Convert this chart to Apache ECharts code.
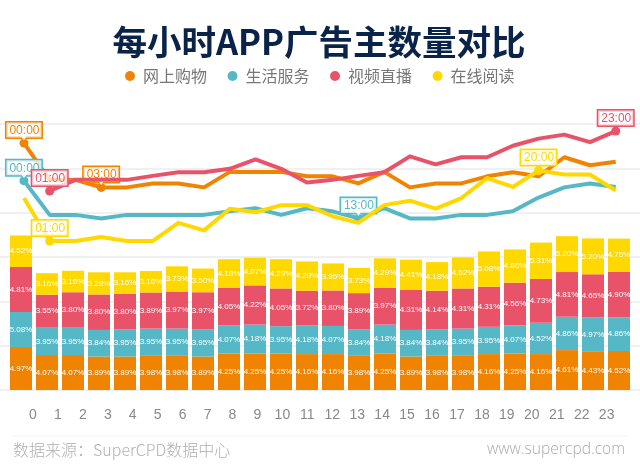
<!DOCTYPE html>
<html>
<head>
<meta charset="utf-8">
<style>html,body{margin:0;padding:0;background:#fff}#chart{width:640px;height:470px}</style>
<script src="https://cdn.jsdelivr.net/npm/echarts@6/dist/echarts.min.js"></script>
</head>
<body>
<div id="chart"></div>
<script>
var hours = ['0','1','2','3','4','5','6','7','8','9','10','11','12','13','14','15','16','17','18','19','20','21','22','23'];
var seriesNames = ['网上购物','生活服务','视频直播','在线阅读'];
var colors = ['#f08300','#56b8c7','#e8536a','#ffd800'];

// percentages printed on the bars
var shopPct = ['4.97%','4.07%','4.07%','3.89%','3.89%','3.98%','3.98%','3.89%','4.25%','4.25%','4.25%','4.16%','4.16%','3.98%','4.25%','3.89%','3.98%','3.98%','4.16%','4.25%','4.16%','4.61%','4.43%','4.52%'];
var lifePct = ['5.08%','3.95%','3.95%','3.84%','3.95%','3.95%','3.95%','3.95%','4.07%','4.18%','3.95%','4.18%','4.07%','3.84%','4.18%','3.84%','3.84%','3.95%','3.95%','4.07%','4.52%','4.86%','4.97%','4.86%'];
var videoPct = ['4.81%','3.55%','3.80%','3.80%','3.80%','3.89%','3.97%','3.97%','4.05%','4.22%','4.05%','3.72%','3.80%','3.89%','3.97%','4.31%','4.14%','4.31%','4.31%','4.56%','4.73%','4.81%','4.65%','4.90%'];
var readPct = ['4.52%','3.16%','3.16%','3.28%','3.16%','3.16%','3.73%','3.50%','4.18%','4.07%','4.29%','4.29%','3.95%','3.73%','4.29%','4.41%','4.18%','4.52%','5.08%','4.86%','5.31%','5.20%','5.20%','4.75%'];

// bar heights
var shopBars = [0.97,0.79,0.79,0.755,0.755,0.77,0.77,0.755,0.825,0.825,0.825,0.81,0.81,0.77,0.825,0.755,0.77,0.77,0.81,0.825,0.81,0.90,0.86,0.88];
var lifeBars = [0.79,0.615,0.615,0.60,0.615,0.615,0.615,0.615,0.635,0.65,0.615,0.65,0.635,0.60,0.65,0.60,0.60,0.615,0.615,0.635,0.705,0.75,0.775,0.76];
var videoBars = [1.015,0.745,0.80,0.80,0.80,0.815,0.835,0.835,0.85,0.885,0.85,0.78,0.80,0.815,0.835,0.905,0.87,0.905,0.905,0.96,0.99,1.01,0.975,1.03];
var readBars = [0.71,0.485,0.485,0.50,0.485,0.485,0.57,0.535,0.64,0.625,0.66,0.66,0.61,0.57,0.66,0.68,0.645,0.70,0.795,0.75,0.82,0.81,0.81,0.745];

// trend lines
var shopLine = [5.57,4.74,4.74,4.57,4.57,4.66,4.66,4.57,4.92,4.92,4.92,4.82,4.82,4.66,4.92,4.57,4.66,4.66,4.82,4.91,4.82,5.25,5.07,5.15];
var lifeLine = [4.72,3.95,3.95,3.87,3.95,3.95,3.95,3.95,4.03,4.10,3.95,4.10,4.03,3.87,4.10,3.87,3.87,3.95,3.95,4.03,4.34,4.57,4.66,4.58];
var videoLine = [null,4.49,4.74,4.74,4.74,4.83,4.91,4.91,4.99,5.20,4.99,4.68,4.74,4.83,4.91,5.27,5.09,5.25,5.25,5.51,5.67,5.76,5.59,5.84];
var readLine = [4.33,3.36,3.36,3.45,3.36,3.36,3.77,3.60,4.09,4.01,4.17,4.17,3.92,3.77,4.17,4.27,4.09,4.33,4.78,4.58,4.95,4.86,4.86,4.50];

// hours that carry a callout box
var shopCallouts = [0,3];
var lifeCallouts = [0,13];
var videoCallouts = [1,23];
var readCallouts = [1,20];

function barSeries(idx, data, labels){
	return {
		name: seriesNames[idx],
		type: 'bar',
		stack: 'all',
		xAxisIndex: 2,
		yAxisIndex: 2,
		barWidth: 22,
		itemStyle: {color: colors[idx]},
		label: {
			show: true,
			position: 'inside',
			color: '#fff',
			fontSize: 8,
			fontFamily: 'Liberation Sans',
			formatter: function(p){ return labels[p.dataIndex]; }
		},
		data: data
	};
}

function lineSeries(idx, data, callouts){
	var color = colors[idx];
	return {
		name: seriesNames[idx],
		type: 'line',
		xAxisIndex: 3,
		yAxisIndex: 3,
		z: 3 + idx,
		showAllSymbol: true,
		symbol: 'circle',
		symbolSize: function(v, p){ return callouts.indexOf(p.dataIndex) > -1 ? 9 : 0; },
		lineStyle: {width: 4, color: color, join: 'round'},
		itemStyle: {color: color},
		label: {show: false},
		data: data.map(function(v, i){
			if (callouts.indexOf(i) == -1) return v;
			return {
				value: v,
				label: {
					show: true,
					position: 'top',
					distance: 1,
					formatter: (i < 10 ? '0' : '') + i + ':00',
					color: color,
					fontSize: 12,
					fontFamily: 'Liberation Sans',
					backgroundColor: 'rgba(255,255,255,0.75)',
					borderColor: color,
					borderWidth: 1.5,
					padding: [2,2,1,3]
				}
			};
		}),
		markPoint: {
			silent: true,
			symbol: 'triangle',
			symbolRotate: 180,
			symbolSize: [7,5],
			symbolOffset: [0,-5],
			itemStyle: {color: 'rgba(255,255,255,0.85)'},
			label: {show: false},
			data: callouts.map(function(i){ return {coord: [i, data[i]]}; })
		}
	};
}

var gridTop = 124, gridHeight = 266;
var myChart = echarts.init(document.getElementById('chart'));
var option = {
	animation: false,
	title: {
		text: '每小时APP广告主数量对比',
		left: 314,
		top: 20,
		textAlign: 'center',
		textStyle: {color: '#0a2348', fontSize: 34.5, fontWeight: 'bold', fontFamily: 'Noto Sans CJK SC'}
	},
	legend: {
		left: 120,
		top: 63,
		icon: 'circle',
		itemWidth: 10,
		itemHeight: 10,
		itemGap: 20.5,
		textStyle: {color: '#777', fontSize: 16, fontFamily: 'Noto Sans CJK SC', padding: [0,0,0,3]},
		data: seriesNames
	},
	// 0: full width rules, 1: hour labels, 2: bars, 3: lines
	grid: [
		{left: 0, right: 0, top: gridTop, height: gridHeight},
		{left: 20.5, right: 20.9, top: gridTop, height: gridHeight},
		{left: 8, right: 8, top: gridTop, height: gridHeight},
		{left: 11.1, right: 11.4, top: gridTop, height: gridHeight}
	],
	xAxis: [
		{gridIndex: 0, type: 'category', data: hours, show: false},
		{
			gridIndex: 1,
			type: 'category',
			data: hours,
			axisLine: {show: false},
			axisTick: {show: false},
			axisLabel: {interval: 0, color: '#888', fontSize: 14, margin: 18, fontFamily: 'Liberation Sans'}
		},
		{gridIndex: 2, type: 'category', data: hours, show: false},
		{gridIndex: 3, type: 'category', data: hours, show: false}
	],
	yAxis: [
		{
			gridIndex: 0, type: 'value', min: 0, max: 6, interval: 1,
			axisLine: {show: false}, axisTick: {show: false}, axisLabel: {show: false},
			splitLine: {show: true, lineStyle: {color: '#f0f0f0', width: 2}}
		},
		{gridIndex: 1, type: 'value', min: 0, max: 6, show: false, splitLine: {show: false}},
		{gridIndex: 2, type: 'value', min: 0, max: 6, show: false, splitLine: {show: false}},
		{gridIndex: 3, type: 'value', min: 0, max: 6, show: false, splitLine: {show: false}}
	],
	graphic: [
		{type: 'line', shape: {x1: 12, y1: 436, x2: 628, y2: 436}, style: {stroke: '#f5f5f5', lineWidth: 1}},
		{type: 'text', left: 13, top: 442, style: {text: '数据来源：SuperCPD数据中心', fill: '#b0b0b0', fontSize: 16, fontWeight: 300, fontFamily: 'Noto Sans CJK SC'}},
		{type: 'text', right: 15, top: 442, style: {text: 'www.supercpd.com', fill: '#aaa', fontSize: 15.6, fontWeight: 300, fontFamily: 'Open Sans'}}
	],
	series: [
		barSeries(0, shopBars, shopPct),
		barSeries(1, lifeBars, lifePct),
		barSeries(2, videoBars, videoPct),
		barSeries(3, readBars, readPct),
		lineSeries(2, videoLine, videoCallouts),
		lineSeries(3, readLine, readCallouts),
		lineSeries(0, shopLine, shopCallouts),
		lineSeries(1, lifeLine, lifeCallouts)
	]
};
myChart.setOption(option);
</script>
</body>
</html>
